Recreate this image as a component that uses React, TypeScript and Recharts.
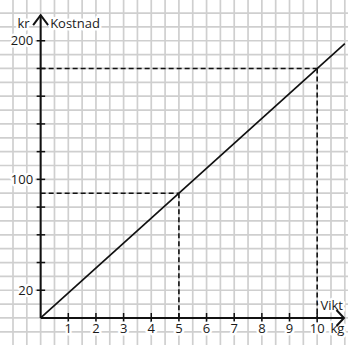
import React from 'react';
import { ComposedChart, XAxis, YAxis, ReferenceLine, Scatter } from 'recharts';

// Domains (kg on x, kr on y)
const xDomain = [-1.47, 11.115];
const yDomain = [-19.5, 229.4];

// Graph-paper grid lines (half kg, 10 kr)
const gridX = [-1, -0.5, 0, 0.5, 1, 1.5, 2, 2.5, 3, 3.5, 4, 4.5, 5, 5.5, 6, 6.5, 7, 7.5, 8, 8.5, 9, 9.5, 10, 10.5, 11];
const gridY = [-10, 0, 10, 20, 30, 40, 50, 60, 70, 80, 90, 100, 110, 120, 130, 140, 150, 160, 170, 180, 190, 200, 210, 220];

// Cost line
const lineWeights = [0, 11];
const lineCosts = [0, 198];

// Dashed reading guides
const guideWeights = [5, 10];
const guideCosts = [90, 180];

// Axis ticks
const xTickValues = [1, 2, 3, 4, 5, 6, 7, 8, 9, 10];
const xTickLabels = ['1', '2', '3', '4', '5', '6', '7', '8', '9', '10'];
const yTickValues = [20, 40, 60, 80, 100, 120, 140, 160, 180, 200];
const yTickLabels = ['20', '', '', '', '100', '', '', '', '', '200'];

// Axis ends (arrow tips)
const yAxisTop = 218.5;
const xAxisEnd = 10.97;

const linePoints = lineWeights.map((x, i) => ({ x, y: lineCosts[i] }));
const xTickData = xTickValues.map((x, i) => ({ x, y: 0, label: xTickLabels[i] }));
const yTickData = yTickValues.map((y, i) => ({ x: 0, y, label: yTickLabels[i] }));

const FONT = "'Open Sans', sans-serif";
const textStyle: React.CSSProperties = {
  fontFamily: FONT,
  fontSize: 13,
  fontWeight: 500,
  fill: '#1a1a1a',
  stroke: '#fff',
  strokeWidth: 5,
  strokeLinejoin: 'round',
  paintOrder: 'stroke',
};

const XTick = (props: any) => {
  const { cx, cy, payload } = props;
  return (
    <g>
      <line x1={cx} x2={cx} y1={cy - 5} y2={cy + 4.5} stroke="#111" strokeWidth={1.5} />
      <text x={cx} y={cy + 15.5} textAnchor="middle" style={textStyle}>{payload.label}</text>
    </g>
  );
};

const YTick = (props: any) => {
  const { cx, cy, payload } = props;
  return (
    <g>
      <line x1={cx - 4} x2={cx + 4.5} y1={cy} y2={cy} stroke="#111" strokeWidth={1.5} />
      {payload.label ? (
        <text x={cx - 7.5} y={cy + 4.6} textAnchor="end" style={textStyle}>{payload.label}</text>
      ) : null}
    </g>
  );
};

const YArrow = (props: any) => {
  const { cx, cy } = props;
  return (
    <g>
      <polyline points={`${cx - 7.5},${cy + 10} ${cx},${cy} ${cx + 7.5},${cy + 10}`} fill="none" stroke="#111" strokeWidth={2} />
      <text x={cx - 11} y={cy + 13} textAnchor="end" style={textStyle}>kr</text>
      <text x={cx + 9.5} y={cy + 13} textAnchor="start" style={textStyle}>Kostnad</text>
    </g>
  );
};

const XArrow = (props: any) => {
  const { cx, cy } = props;
  return (
    <g>
      <text x={cx - 1} y={cy - 8} textAnchor="end" style={textStyle}>Vikt</text>
      <text x={cx - 13.5} y={cy + 15.5} textAnchor="start" style={textStyle}>kg</text>
      <polyline points={`${cx - 7.5},${cy - 8} ${cx},${cy} ${cx - 7.5},${cy + 8}`} fill="none" stroke="#111" strokeWidth={2} />
    </g>
  );
};

const Nothing = () => <g />;

export default function App() {
  return (
    <div style={{ position: 'absolute', left: 0, top: 0, width: 348, height: 345, background: '#fff' }}>
      <ComposedChart width={348} height={345} margin={{ top: 0, right: 0, bottom: 0, left: 0 }}>
        <XAxis type="number" dataKey="x" domain={xDomain} allowDataOverflow hide />
        <YAxis type="number" dataKey="y" domain={yDomain} allowDataOverflow hide />
        {gridX.map((v) => (
          <ReferenceLine key={`gx${v}`} x={v} stroke="#cfcfcf" strokeWidth={1.7} />
        ))}
        {gridY.map((v) => (
          <ReferenceLine key={`gy${v}`} y={v} stroke="#cfcfcf" strokeWidth={1.7} />
        ))}
        {guideWeights.map((w, i) => (
          <ReferenceLine
            key={`h${i}`}
            segment={[{ x: 0, y: guideCosts[i] }, { x: w, y: guideCosts[i] }]}
            stroke="#111"
            strokeWidth={1.6}
            strokeDasharray="5 3"
          />
        ))}
        {guideWeights.map((w, i) => (
          <ReferenceLine
            key={`v${i}`}
            segment={[{ x: w, y: guideCosts[i] }, { x: w, y: 0 }]}
            stroke="#111"
            strokeWidth={1.6}
            strokeDasharray="5 3"
          />
        ))}
        <ReferenceLine segment={[{ x: 0, y: 0 }, { x: 0, y: yAxisTop }]} stroke="#111" strokeWidth={2} />
        <ReferenceLine segment={[{ x: 0, y: 0 }, { x: xAxisEnd, y: 0 }]} stroke="#111" strokeWidth={2} />
        <Scatter data={linePoints} dataKey="y" line={{ stroke: '#111', strokeWidth: 1.7 }} lineType="joint" shape={<Nothing />} isAnimationActive={false} />
        <Scatter data={xTickData} dataKey="y" shape={<XTick />} isAnimationActive={false} />
        <Scatter data={yTickData} dataKey="y" shape={<YTick />} isAnimationActive={false} />
        <Scatter data={[{ x: 0, y: yAxisTop }]} dataKey="y" shape={<YArrow />} isAnimationActive={false} />
        <Scatter data={[{ x: xAxisEnd, y: 0 }]} dataKey="y" shape={<XArrow />} isAnimationActive={false} />
      </ComposedChart>
    </div>
  );
}
